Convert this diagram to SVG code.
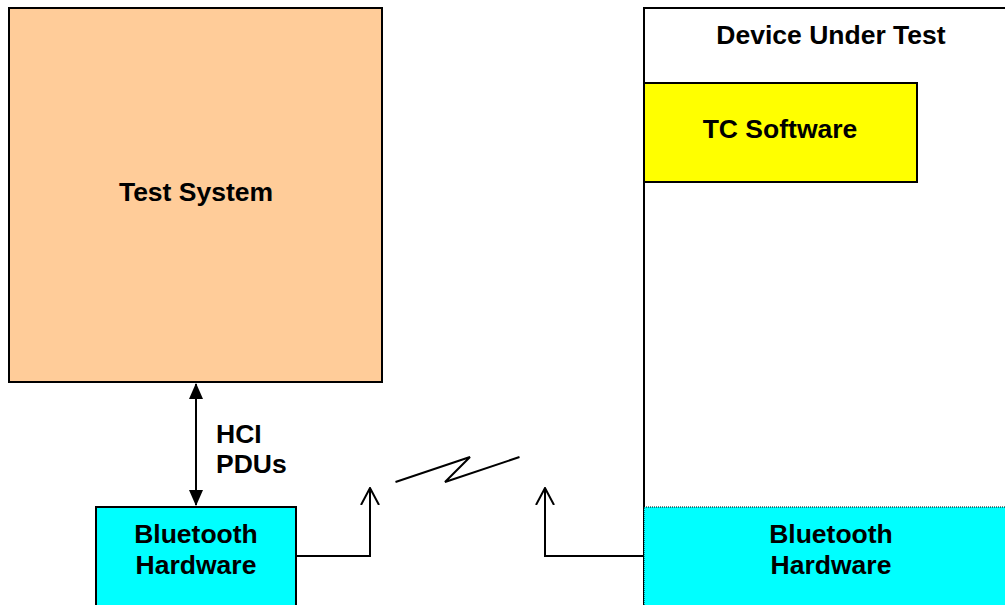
<svg xmlns="http://www.w3.org/2000/svg" width="1005" height="605" viewBox="0 0 1005 605">
<style>
text{font-family:"Liberation Sans",Arial,sans-serif;font-weight:bold;font-size:26.5px;fill:#000;text-anchor:middle}
.box{stroke:#000;stroke-width:2}
.ln{fill:none;stroke:#000;stroke-width:2}
</style>
<defs>
<marker id="fa" viewBox="0 0 16 14" refX="15" refY="7" markerWidth="16" markerHeight="14" markerUnits="userSpaceOnUse" orient="auto-start-reverse">
<path d="M0,0 L16,7 L0,14 Z" fill="#000"/>
</marker>
<marker id="oa" viewBox="0 0 18 20" refX="17" refY="10" markerWidth="18" markerHeight="20" markerUnits="userSpaceOnUse" orient="auto">
<path d="M0,1 L17,10 L0,19" fill="none" stroke="#000" stroke-width="2"/>
</marker>
</defs>
<g id="test-system">
<rect class="box" x="9" y="8" width="373" height="374" fill="#FFCC99"/>
<text x="196" y="201">Test System</text>
</g>
<g id="dut">
<rect class="box" x="644" y="8" width="370" height="610" fill="#FFFFFF"/>
<text x="831" y="44">Device Under Test</text>
</g>
<g id="tc-software">
<rect class="box" x="644" y="83" width="273" height="99" fill="#FFFF00"/>
<text x="780" y="138">TC Software</text>
</g>
<g id="bt-left">
<rect class="box" x="96" y="507" width="200" height="110" fill="#00FFFF"/>
<text x="196" y="543">Bluetooth</text>
<text x="196" y="574">Hardware</text>
</g>
<g id="bt-right">
<rect x="644" y="507" width="370" height="110" fill="#00FFFF" stroke="#000" stroke-width="1" stroke-dasharray="1,1"/>
<text x="831" y="543">Bluetooth</text>
<text x="831" y="574">Hardware</text>
</g>
<g id="connectors">
<line class="ln" x1="196" y1="384" x2="196" y2="505" marker-start="url(#fa)" marker-end="url(#fa)"/>
<text x="216" y="443" style="text-anchor:start">HCI</text>
<text x="216" y="473" style="text-anchor:start">PDUs</text>
<polyline class="ln" points="296,556 370,556 370,488" marker-end="url(#oa)"/>
<polyline class="ln" points="643,556 545,556 545,488" marker-end="url(#oa)"/>
<polyline class="ln" points="395.5,482 470,457 445,482 519.5,457"/>
</g>
</svg>
